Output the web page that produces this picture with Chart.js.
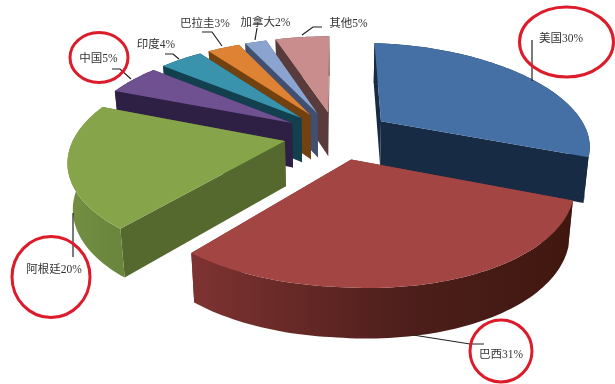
<!DOCTYPE html>
<html>
<head>
<meta charset="utf-8">
<style>html,body{margin:0;padding:0;background:#fff}canvas{display:block}</style>
<script src="https://cdn.jsdelivr.net/npm/chart.js@4/dist/chart.umd.js"></script>
</head>
<body>
<canvas id="c" width="615" height="384"></canvas>
<script>
// Series, in clockwise order from twelve o'clock
const categories = ['美国', '巴西', '阿根廷', '中国', '印度', '巴拉圭', '加拿大', '其他'];
const shares = [30, 31, 20, 5, 4, 3, 2, 5];

// Face colours of each slice
const topColors = ['#4470a6', '#a34543', '#86a44a', '#6f5090', '#3a93ad', '#dd8333', '#8ba4cf', '#c98d8d'];
const cutWallColors = ['#172b45', '#7a3230', '#55692f', '#2e1f44', '#12404f', '#73400f', '#414f70', '#5a3b3b'];
const rimWallLeft = ['#172b45', '#7e3331', '#728f41', '#2e1f44', '#12404f', '#73400f', '#414f70', '#5a3b3b'];
const rimWallMid = ['#172b45', '#4e1f1c', '#6e8a3f', '#2e1f44', '#12404f', '#73400f', '#414f70', '#5a3b3b'];
const rimWallRight = ['#172b45', '#40170f', '#6a853c', '#2e1f44', '#12404f', '#73400f', '#414f70', '#5a3b3b'];

// How far each slice is pulled out of the pie
const explode = [46, 42, 42, 42, 42, 42, 42, 42];

// Back slices are painted first so nearer ones overlap them
const paintOrder = [7, 6, 5, 4, 3, 0, 2, 1];

// Tilted-disc projection of the pie plane onto the page
const view = { cx: 336, cy: 135, radius: 210, tilt: 96.4, persp: 0.174, sag: 0.03, depth: 45, depthPersp: 4.5, baseShrink: 0.98 };

function project(u, v) {
  const f = 1 / (1 - view.persp * v);
  const x = view.cx + view.radius * u * f;
  const y = view.cy + view.tilt * v * f + view.sag * Math.max(0, x - view.cx);
  return { x, y, v };
}
function drop(p) {
  return { x: view.cx + (p.x - view.cx) * view.baseShrink, y: p.y + view.depth + view.depthPersp * p.v };
}
function poly(ctx, pts, fill) {
  ctx.beginPath();
  pts.forEach((p, i) => (i ? ctx.lineTo(p.x, p.y) : ctx.moveTo(p.x, p.y)));
  ctx.closePath();
  ctx.fillStyle = fill;
  ctx.fill();
}

// Renders the Chart.js arc elements as extruded, exploded wedges
const tiltedPie = {
  id: 'tiltedPie',
  beforeDatasetDraw(chart, args) {
    const ctx = chart.ctx;
    const arcs = chart.getDatasetMeta(args.index).data;
    ctx.save();
    paintOrder.forEach(i => {
      const arc = arcs[i];
      const R = arc.outerRadius;
      const mid = (arc.startAngle + arc.endAngle) / 2;
      const ox = Math.cos(mid) * arc.options.offset / R;
      const oy = Math.sin(mid) * arc.options.offset / R;
      const apex = project(ox, oy);
      const rim = [];
      const steps = Math.max(6, Math.ceil((arc.endAngle - arc.startAngle) * 40));
      for (let s = 0; s <= steps; s++) {
        const a = arc.startAngle + (arc.endAngle - arc.startAngle) * s / steps;
        rim.push(project(ox + Math.cos(a), oy + Math.sin(a)));
      }
      const first = rim[0], last = rim[rim.length - 1];
      poly(ctx, [apex, first, drop(first), drop(apex)], cutWallColors[i]);
      poly(ctx, [apex, last, drop(last), drop(apex)], cutWallColors[i]);
      const xs = rim.map(p => p.x);
      const grad = ctx.createLinearGradient(Math.min(...xs), 0, Math.max(...xs), 0);
      grad.addColorStop(0, rimWallLeft[i]);
      grad.addColorStop(0.55, rimWallMid[i]);
      grad.addColorStop(1, rimWallRight[i]);
      poly(ctx, rim.concat(rim.map(drop).reverse()), grad);
      poly(ctx, [apex].concat(rim), arc.options.backgroundColor);
    });
    ctx.restore();
    return false;
  }
};

// Label text anchors, leader polylines and hand-drawn style ring highlights
const labelAnchors = [[561, 39], [501, 355], [54, 270], [98.5, 59], [156, 45], [205, 24], [265.5, 23], [348.5, 24]];
const leaders = [
  [[532, 40], [532, 81]],
  [[413, 335], [470, 344], [484, 344]],
  [[73, 213], [73, 257]],
  [[112, 69], [120, 69], [131, 79]],
  [[165, 54], [173, 54], [179, 59]],
  [[202, 32], [212, 32], [222, 46]],
  [[257, 28], [255, 40]],
  [[322, 27], [313, 27], [302, 35]]
];
const rings = [[566.5, 42, 47, 35], [501, 351, 31, 31], [51, 277, 39, 40.5], [99, 57.5, 29, 25]];

const annotations = {
  id: 'annotations',
  afterDatasetsDraw(chart) {
    const ctx = chart.ctx;
    ctx.save();
    ctx.strokeStyle = '#222';
    ctx.lineWidth = 1.2;
    leaders.forEach(line => {
      ctx.beginPath();
      line.forEach(([x, y], i) => (i ? ctx.lineTo(x, y) : ctx.moveTo(x, y)));
      ctx.stroke();
    });
    ctx.strokeStyle = '#dc1c2b';
    ctx.lineWidth = 3;
    rings.forEach(([x, y, rx, ry]) => {
      ctx.beginPath();
      ctx.ellipse(x, y, rx, ry, 0, 0, Math.PI * 2);
      ctx.stroke();
    });
    ctx.fillStyle = '#333';
    ctx.font = '11.5px "Liberation Serif", "Noto Sans CJK SC"';
    ctx.textAlign = 'center';
    ctx.textBaseline = 'middle';
    categories.forEach((name, i) => {
      ctx.fillText(name + shares[i] + '%', labelAnchors[i][0], labelAnchors[i][1]);
    });
    ctx.restore();
  }
};

new Chart(document.getElementById('c'), {
  type: 'pie',
  data: {
    labels: categories,
    datasets: [{ data: shares, backgroundColor: topColors, borderWidth: 0, offset: explode }]
  },
  options: {
    responsive: false,
    animation: false,
    plugins: { legend: { display: false }, tooltip: { enabled: false } }
  },
  plugins: [tiltedPie, annotations]
});
</script>
</body>
</html>
